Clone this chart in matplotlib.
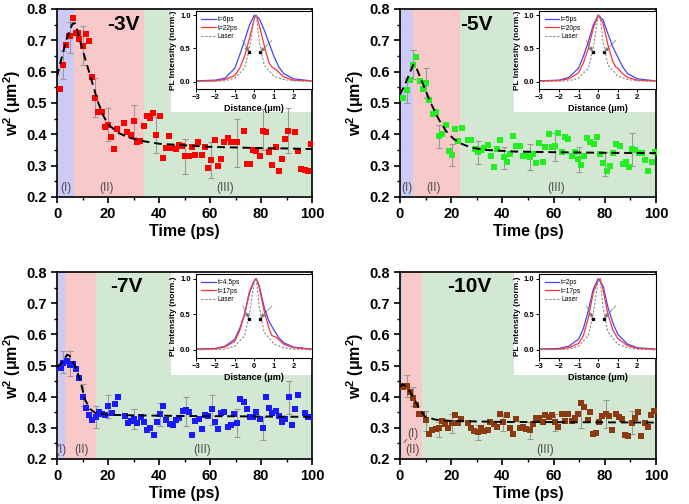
import matplotlib
matplotlib.use("Agg")
import matplotlib.pyplot as plt
from matplotlib.patches import Rectangle

plt.rcParams['font.family'] = ['Liberation Sans', 'DejaVu Sans']
plt.rcParams['font.weight'] = 'bold'
plt.rcParams['axes.labelweight'] = 'bold'
plt.rcParams['mathtext.fontset'] = 'custom'
plt.rcParams['mathtext.rm'] = 'Liberation Sans:bold'
plt.rcParams['mathtext.it'] = 'Liberation Sans:bold'
plt.rcParams['mathtext.bf'] = 'Liberation Sans:bold'

# ---------------- data ----------------
# -3V
t_3v = [1.0, 2.5, 3.7, 4.8, 5.2, 6.3, 7.5, 8.4, 8.8, 10.1, 11.2, 12.5, 13.9, 15.0, 16.2, 17.5, 18.8, 20.0,
        21.3, 22.5, 23.7, 26.3, 27.6, 28.9, 30.1, 31.4, 32.7, 34.0, 35.2, 36.5, 37.8, 39.0, 40.3, 41.6,
        42.9, 44.1, 45.2, 46.5, 47.8, 49.0, 50.3, 51.6, 52.9, 54.1, 55.4, 56.7, 57.9, 59.2, 60.5, 61.8,
        63.0, 64.3, 65.6, 66.9, 68.1, 70.7, 73.3, 74.5, 75.7, 77.0, 78.2, 79.5, 80.8, 81.9, 83.3, 84.4,
        85.8, 87.1, 88.2, 89.5, 90.7, 93.3, 94.6, 95.8, 97.1, 98.4, 99.7]
w2_3v = [0.545, 0.62, 0.684, 0.713, 0.713, 0.77, 0.722, 0.722, 0.705, 0.683, 0.72, 0.697, 0.582, 0.516,
         0.471, 0.471, 0.424, 0.431, 0.39, 0.353, 0.418, 0.436, 0.407, 0.399, 0.443, 0.375, 0.378, 0.426,
         0.459, 0.453, 0.468, 0.398, 0.457, 0.325, 0.357, 0.395, 0.355, 0.354, 0.365, 0.364, 0.332, 0.331,
         0.358, 0.335, 0.377, 0.335, 0.361, 0.291, 0.317, 0.382, 0.298, 0.321, 0.377, 0.388, 0.377, 0.374,
         0.412, 0.304, 0.304, 0.349, 0.348, 0.331, 0.41, 0.409, 0.344, 0.301, 0.361, 0.283, 0.322, 0.385,
         0.412, 0.409, 0.346, 0.29, 0.286, 0.282, 0.368]
fit_t_3v = [0, 2, 4, 6, 7, 8, 10, 12, 14, 16, 18, 20, 24, 28, 34, 40, 50, 60, 70, 80, 90, 100]
fit_w_3v = [0.585, 0.65, 0.71, 0.752, 0.755, 0.73, 0.67, 0.615, 0.56, 0.505, 0.462, 0.432, 0.405, 0.39,
            0.378, 0.37, 0.365, 0.36, 0.358, 0.356, 0.355, 0.353]
err_t_3v = [2.5, 5.2, 10.1, 15.0, 20.0, 30.1, 39.0, 50.3, 60.5, 70.7, 80.8, 90.7]
err_lo_3v = [0.575, 0.66, 0.62, 0.455, 0.38, 0.39, 0.34, 0.275, 0.262, 0.295, 0.35, 0.34]
err_hi_3v = [0.665, 0.76, 0.745, 0.58, 0.485, 0.495, 0.455, 0.385, 0.375, 0.45, 0.48, 0.485]

# -5V
t_5v = [1.3, 2.6, 3.9, 5.2, 6.4, 7.7, 8.9, 10.2, 11.5, 12.8, 14.0, 15.3, 16.6, 17.9, 19.0, 20.2, 21.5,
        22.8, 24.1, 26.6, 27.9, 29.2, 30.4, 31.7, 33.0, 34.3, 35.5, 36.6, 37.9, 39.2, 40.5, 41.7, 43.0,
        44.2, 45.5, 46.8, 48.1, 49.3, 50.6, 51.9, 53.1, 54.4, 55.7, 56.8, 58.1, 59.5, 60.6, 61.9, 63.2,
        64.4, 65.7, 67.0, 68.2, 69.5, 70.7, 72.0, 73.1, 74.4, 75.7, 76.9, 78.2, 79.4, 80.7, 82.0, 83.3,
        84.5, 85.8, 87.0, 88.3, 89.4, 90.6, 91.9, 93.2, 94.5, 95.7, 97.0, 98.3, 99.6]
w2_5v = [0.516, 0.543, 0.574, 0.621, 0.647, 0.569, 0.545, 0.564, 0.511, 0.466, 0.472, 0.394, 0.401, 0.429,
         0.348, 0.335, 0.418, 0.378, 0.42, 0.382, 0.382, 0.354, 0.345, 0.351, 0.356, 0.367, 0.33, 0.295,
         0.352, 0.383, 0.328, 0.311, 0.336, 0.396, 0.362, 0.362, 0.332, 0.331, 0.327, 0.338, 0.31, 0.372,
         0.313, 0.361, 0.402, 0.361, 0.364, 0.403, 0.345, 0.392, 0.385, 0.33, 0.345, 0.322, 0.303, 0.331,
         0.387, 0.374, 0.368, 0.39, 0.336, 0.307, 0.283, 0.298, 0.34, 0.368, 0.362, 0.305, 0.312, 0.295,
         0.354, 0.351, 0.342, 0.342, 0.318, 0.282, 0.312, 0.343]
fit_t_5v = [0, 2, 4, 5.2, 6.5, 9, 12, 15, 18, 21, 24, 28, 34, 45, 60, 80, 100]
fit_w_5v = [0.527, 0.56, 0.6, 0.622, 0.61, 0.56, 0.5, 0.45, 0.41, 0.385, 0.37, 0.357, 0.35, 0.345,
            0.343, 0.341, 0.34]
err_t_5v = [2.6, 5.2, 10.2, 15.3, 20.2, 30.4, 40.5, 50.6, 60.6, 70.0, 80.0, 90.6]
err_lo_5v = [0.50, 0.575, 0.515, 0.355, 0.30, 0.305, 0.29, 0.285, 0.315, 0.28, 0.268, 0.30]
err_hi_5v = [0.58, 0.668, 0.612, 0.43, 0.37, 0.38, 0.36, 0.37, 0.405, 0.36, 0.345, 0.405]

# -7V
t_7v = [0.7, 1.6, 2.5, 3.8, 5.1, 6.3, 7.6, 8.8, 10.1, 11.4, 12.5, 13.9, 15.2, 16.3, 17.6, 19.0, 20.1,
        21.4, 22.7, 24.1, 26.5, 27.7, 29.0, 30.3, 31.5, 32.8, 34.1, 35.3, 36.6, 37.9, 39.1, 40.4, 41.7,
        42.9, 44.2, 45.5, 46.7, 48.0, 49.3, 50.5, 51.8, 53.1, 54.2, 55.6, 56.9, 58.0, 59.3, 60.7, 61.8,
        63.1, 64.4, 65.6, 66.9, 68.2, 69.4, 70.7, 71.9, 73.2, 74.4, 75.7, 77.0, 78.2, 79.5, 80.7, 82.0,
        83.3, 84.4, 85.8, 87.1, 88.2, 89.5, 90.8, 92.2, 93.3, 94.6, 97.1, 98.4, 99.6]
w2_7v = [0.491, 0.491, 0.507, 0.513, 0.503, 0.505, 0.489, 0.461, 0.40, 0.365, 0.34, 0.324, 0.336, 0.35,
         0.345, 0.341, 0.371, 0.348, 0.376, 0.40, 0.337, 0.314, 0.323, 0.329, 0.314, 0.335, 0.318, 0.293,
         0.30, 0.277, 0.318, 0.344, 0.369, 0.326, 0.313, 0.309, 0.324, 0.331, 0.353, 0.357, 0.351, 0.277,
         0.323, 0.329, 0.297, 0.341, 0.337, 0.36, 0.319, 0.297, 0.346, 0.351, 0.302, 0.309, 0.343, 0.315,
         0.393, 0.384, 0.362, 0.336, 0.334, 0.351, 0.328, 0.298, 0.40, 0.364, 0.349, 0.353, 0.339, 0.32,
         0.328, 0.399, 0.308, 0.359, 0.404, 0.349, 0.334, 0.334]
fit_t_7v = [0, 2, 4, 5, 7, 9, 11, 13, 15, 20, 30, 50, 70, 100]
fit_w_7v = [0.495, 0.51, 0.535, 0.53, 0.5, 0.455, 0.39, 0.36, 0.348, 0.342, 0.34, 0.338, 0.337, 0.335]
err_t_7v = [2.5, 5.1, 10.1, 15.2, 20.1, 30.3, 40.4, 50.5, 60.7, 70.7, 80.7, 90.8]
err_lo_7v = [0.475, 0.465, 0.37, 0.30, 0.33, 0.295, 0.305, 0.305, 0.31, 0.27, 0.26, 0.345]
err_hi_7v = [0.545, 0.545, 0.44, 0.37, 0.405, 0.362, 0.38, 0.40, 0.405, 0.36, 0.335, 0.45]

# -10V
t_10v = [1.0, 2.0, 2.9, 3.8, 5.1, 6.4, 7.6, 8.7, 10.0, 11.3, 12.6, 13.9, 15.1, 16.4, 17.6, 18.9, 20.2,
         21.5, 22.7, 24.0, 26.6, 27.8, 29.1, 30.4, 31.6, 32.9, 34.2, 35.3, 36.6, 37.9, 39.1, 40.4, 41.7,
         43.0, 44.2, 45.5, 46.8, 48.1, 49.3, 50.6, 51.9, 53.1, 54.4, 55.7, 56.8, 58.1, 59.5, 60.6, 61.9,
         63.2, 64.4, 65.7, 67.0, 68.2, 69.5, 70.7, 72.0, 73.3, 74.4, 75.2, 76.5, 77.8, 79.0, 80.3, 81.6,
         82.9, 84.2, 85.4, 86.7, 88.0, 89.2, 90.5, 91.8, 93.1, 94.3, 95.6, 96.7, 98.0, 99.3]
w2_10v = [0.432, 0.434, 0.434, 0.414, 0.395, 0.374, 0.344, 0.344, 0.326, 0.28, 0.294, 0.297, 0.299,
          0.321, 0.312, 0.301, 0.316, 0.342, 0.317, 0.329, 0.317, 0.301, 0.291, 0.287, 0.301, 0.291,
          0.292, 0.318, 0.313, 0.302, 0.343, 0.318, 0.341, 0.301, 0.281, 0.328, 0.298, 0.304, 0.295,
          0.293, 0.312, 0.331, 0.331, 0.319, 0.34, 0.334, 0.342, 0.319, 0.304, 0.344, 0.323, 0.344,
          0.322, 0.33, 0.345, 0.379, 0.367, 0.326, 0.351, 0.28, 0.282, 0.32, 0.339, 0.343, 0.339, 0.294,
          0.344, 0.335, 0.328, 0.277, 0.273, 0.316, 0.333, 0.351, 0.273, 0.314, 0.303, 0.34, 0.353]
fit_t_10v = [0, 0.8, 2, 4, 6, 8, 10, 14, 20, 40, 70, 100]
fit_w_10v = [0.43, 0.44, 0.435, 0.415, 0.385, 0.355, 0.335, 0.326, 0.322, 0.319, 0.318, 0.317]
err_t_10v = [2.9, 5.1, 10.0, 15.1, 20.2, 30.4, 40.4, 50.6, 60.6, 70.7, 80.3, 90.5]
err_lo_10v = [0.40, 0.37, 0.29, 0.27, 0.285, 0.26, 0.29, 0.265, 0.29, 0.30, 0.30, 0.28]
err_hi_10v = [0.47, 0.43, 0.355, 0.32, 0.345, 0.31, 0.345, 0.32, 0.345, 0.39, 0.39, 0.355]

# region boundaries (I)/(II)/(III), ps
bounds_3v = [6.6, 34.0]
bounds_5v = [5.1, 23.5]
bounds_7v = [3.3, 15.2]
bounds_10v = [0.7, 8.7]

# inset profiles (normalised PL intensity vs distance in um)
dist_laser = [-3, -2, -1.5, -1, -0.5, -0.25, 0, 0.1, 0.25, 0.5, 1, 1.5, 2, 2.9]
pl_laser = [0.0, 0.005, 0.01, 0.05, 0.2, 0.5, 0.97, 1.0, 0.6, 0.25, 0.08, 0.03, 0.01, 0.0]

prof_x_3v_b = [-3, -2, -1.5, -1, -0.75, -0.5, -0.25, 0, 0.25, 0.5, 0.75, 1, 1.25, 1.5, 2, 2.9]
prof_y_3v_b = [0.01, 0.02, 0.05, 0.2, 0.4, 0.62, 0.85, 1.0, 0.95, 0.78, 0.58, 0.38, 0.22, 0.12, 0.04, 0.01]
prof_x_3v_r = [-3, -2, -1.5, -1, -0.75, -0.5, -0.25, 0, 0.1, 0.25, 0.5, 0.75, 0.9, 1.1, 1.5, 2, 2.9]
prof_y_3v_r = [0.005, 0.01, 0.03, 0.09, 0.2, 0.38, 0.65, 0.95, 1.0, 0.85, 0.55, 0.28, 0.22, 0.18, 0.07,
               0.02, 0.01]

prof_x_5v_b = [-3, -2, -1.5, -1, -0.75, -0.5, -0.25, 0, 0.25, 0.5, 0.75, 1, 1.25, 1.5, 2, 2.9]
prof_y_5v_b = [0.01, 0.02, 0.06, 0.2, 0.38, 0.6, 0.85, 1.0, 0.93, 0.72, 0.52, 0.37, 0.22, 0.12, 0.04, 0.01]
prof_x_5v_r = [-3, -2, -1.5, -1, -0.75, -0.5, -0.25, 0, 0.25, 0.5, 0.75, 0.9, 1.0, 1.25, 1.5, 2, 2.9]
prof_y_5v_r = [0.01, 0.015, 0.04, 0.13, 0.28, 0.5, 0.8, 1.0, 0.88, 0.55, 0.3, 0.22, 0.2, 0.12, 0.06,
               0.02, 0.01]

prof_x_7v_b = [-3, -2, -1.5, -1, -0.75, -0.5, -0.25, 0, 0.1, 0.25, 0.5, 0.75, 1, 1.25, 1.5, 2, 2.9]
prof_y_7v_b = [0.01, 0.02, 0.05, 0.15, 0.3, 0.5, 0.8, 0.97, 1.0, 0.9, 0.6, 0.4, 0.28, 0.17, 0.1, 0.04, 0.01]
prof_x_7v_r = [-3, -2, -1.5, -1, -0.75, -0.5, -0.25, 0, 0.1, 0.25, 0.5, 0.75, 0.9, 1.1, 1.5, 2, 2.9]
prof_y_7v_r = [0.01, 0.015, 0.04, 0.12, 0.27, 0.5, 0.82, 0.98, 1.0, 0.88, 0.55, 0.3, 0.2, 0.18, 0.08,
               0.03, 0.01]

prof_x_10v_b = [-3, -2, -1.5, -1, -0.75, -0.5, -0.25, 0, 0.25, 0.5, 0.75, 1, 1.5, 2, 2.9]
prof_y_10v_b = [0.01, 0.02, 0.05, 0.15, 0.3, 0.55, 0.85, 1.0, 0.9, 0.6, 0.38, 0.22, 0.08, 0.03, 0.01]
prof_x_10v_r = [-3, -2, -1.5, -1, -0.75, -0.5, -0.25, 0, 0.1, 0.25, 0.5, 0.75, 1, 1.5, 2, 2.9]
prof_y_10v_r = [0.01, 0.01, 0.03, 0.09, 0.2, 0.45, 0.8, 0.98, 1.0, 0.85, 0.5, 0.28, 0.16, 0.06, 0.02, 0.01]

BLUE_BG = "#cbcbf5"
PINK_BG = "#f8c9c9"
GREEN_BG = "#d3e8d3"
GRAY = "#9a9a9a"


def plot_panel(ax, t, w2, fit_t, fit_w, err_t, err_lo, err_hi, bounds, color, volt, lab_x, inset_rect,
               profs, legend_labels):
    ax.axvspan(0, bounds[0], color=BLUE_BG, lw=0, zorder=0)
    ax.axvspan(bounds[0], bounds[1], color=PINK_BG, lw=0, zorder=0)
    ax.axvspan(bounds[1], 100, color=GREEN_BG, lw=0, zorder=0)
    # white box behind the inset
    ax.add_patch(Rectangle((44.6, 0.47), 56, 0.4, facecolor="white", edgecolor="none", zorder=1))

    ymid = [(a + b) / 2 for a, b in zip(err_lo, err_hi)]
    yerr = [(b - a) / 2 for a, b in zip(err_lo, err_hi)]
    ax.errorbar(err_t, ymid, yerr=yerr, fmt="none", ecolor=GRAY, elinewidth=0.8, capsize=2.5,
                capthick=0.8, zorder=2)
    ax.plot(t, w2, "s", color=color, markersize=4.8, markeredgewidth=0, zorder=3)
    ax.plot(fit_t, fit_w, "--", color="black", lw=1.4, dashes=(4, 2.5), zorder=4)

    for txt, x in zip(["(I)", "(II)", "(III)"], lab_x):
        ax.text(x, 0.228, txt, ha="center", va="center", fontsize=8.5, color="#4d4d4d",
                fontweight="normal", zorder=5)
    ax.text(volt[1], 0.752, volt[0], ha="center", va="center", fontsize=15, fontweight="bold", zorder=5)

    ax.set_xlim(0, 100)
    ax.set_ylim(0.2, 0.8)
    ax.set_xticks([0, 20, 40, 60, 80, 100])
    ax.set_xticks([10, 30, 50, 70, 90], minor=True)
    ax.set_yticks([0.2, 0.3, 0.4, 0.5, 0.6, 0.7, 0.8])
    ax.set_yticks([0.25, 0.35, 0.45, 0.55, 0.65, 0.75], minor=True)
    ax.tick_params(axis="both", which="major", direction="out", length=4, width=1.2, labelsize=10.5,
                   top=False, right=False)
    ax.tick_params(axis="both", which="minor", direction="out", length=2, width=1, top=False, right=False)
    for s in ax.spines.values():
        s.set_linewidth(1.2)
    ax.set_xlabel("Time (ps)", fontsize=11.5, labelpad=2)
    ax.set_ylabel(r"w$^2$ (μm$^2$)", fontsize=11.5, labelpad=2)

    ins = ax.inset_axes(inset_rect)
    (bx, by), (rx, ry) = profs
    ins.plot(bx, by, color="#4444ff", lw=0.9, label=legend_labels[0])
    ins.plot(rx, ry, color="#ff3333", lw=0.9, label=legend_labels[1])
    ins.plot(dist_laser, pl_laser, "--", color="#888888", lw=0.8, dashes=(2, 1.5), label="Laser")
    ins.set_xlim(-3, 2.95)
    ins.set_ylim(-0.12, 1.07)
    ins.set_xticks([-3, -2, -1, 0, 1, 2])
    ins.set_yticks([0.0, 0.5, 1.0])
    ins.set_yticklabels(["0.0", "0.5", "1.0"])
    ins.tick_params(labelsize=5.5, length=2, width=0.7, pad=1.5)
    for s in ins.spines.values():
        s.set_linewidth(0.8)
    ins.set_xlabel("Distance (μm)", fontsize=6.5, labelpad=2)
    ins.set_ylabel("PL Intensity (norm.)", fontsize=6, labelpad=2)
    ins.legend(loc="upper left", frameon=False, handlelength=2.2, borderpad=0.3,
               labelspacing=0.25, handletextpad=0.3, prop={"size": 4.8, "weight": "normal"})
    ins.annotate("", xy=(-0.27, 0.44), xytext=(-0.6, 0.62),
                 arrowprops=dict(arrowstyle="-|>,head_length=0.3,head_width=0.12", color="#777777",
                                 lw=0.5, shrinkA=0, shrinkB=0))
    ins.annotate("", xy=(0.3, 0.44), xytext=(0.9, 0.62),
                 arrowprops=dict(arrowstyle="-|>,head_length=0.3,head_width=0.12", color="#777777",
                                 lw=0.5, shrinkA=0, shrinkB=0))
    ins.plot([-0.27, 0.3], [0.44, 0.44], "s", color="black", markersize=1.4)
    return ins


fig = plt.figure(figsize=(6.89, 5.04), dpi=100)
ax1 = fig.add_axes([57 / 689, 1 - 197 / 504, 255 / 689, 188 / 504])
ax2 = fig.add_axes([400 / 689, 1 - 197 / 504, 256 / 689, 188 / 504])
ax3 = fig.add_axes([57 / 689, 1 - 459 / 504, 255 / 689, 187 / 504])
ax4 = fig.add_axes([400 / 689, 1 - 459 / 504, 256 / 689, 187 / 504])

top_inset = [0.544, 0.572, 0.456, 0.42]
bot_inset = [0.544, 0.538, 0.456, 0.453]

plot_panel(ax1, t_3v, w2_3v, fit_t_3v, fit_w_3v, err_t_3v, err_lo_3v, err_hi_3v, bounds_3v, "#ff0000",
           ("-3V", 26), [3.3, 19.3, 66], top_inset,
           [(prof_x_3v_b, prof_y_3v_b), (prof_x_3v_r, prof_y_3v_r)], ["t=6ps", "t=22ps"])
plot_panel(ax2, t_5v, w2_5v, fit_t_5v, fit_w_5v, err_t_5v, err_lo_5v, err_hi_5v, bounds_5v, "#22ee22",
           ("-5V", 30), [2.6, 13, 61], top_inset,
           [(prof_x_5v_b, prof_y_5v_b), (prof_x_5v_r, prof_y_5v_r)], ["t=5ps", "t=20ps"])
plot_panel(ax3, t_7v, w2_7v, fit_t_7v, fit_w_7v, err_t_7v, err_lo_7v, err_hi_7v, bounds_7v, "#1a1aff",
           ("-7V", 27), [1.4, 9.5, 57], bot_inset,
           [(prof_x_7v_b, prof_y_7v_b), (prof_x_7v_r, prof_y_7v_r)], ["t=4.5ps", "t=17ps"])
plot_panel(ax4, t_10v, w2_10v, fit_t_10v, fit_w_10v, err_t_10v, err_lo_10v, err_hi_10v, bounds_10v,
           "#8b3a12", ("-10V", 27), [5, 5, 56.5], bot_inset,
           [(prof_x_10v_b, prof_y_10v_b), (prof_x_10v_r, prof_y_10v_r)], ["t=2ps", "t=17ps"])

# -10V: (I) label sits above (II) with a pointer to the thin first region
for txt in ax4.texts:
    if txt.get_text() == "(I)":
        txt.set_position((5, 0.28))
ax4.annotate("", xy=(0.8, 0.245), xytext=(3.3, 0.27),
             arrowprops=dict(arrowstyle="-", color="#555555", lw=0.6))

fig.savefig("out.png", dpi=100)
